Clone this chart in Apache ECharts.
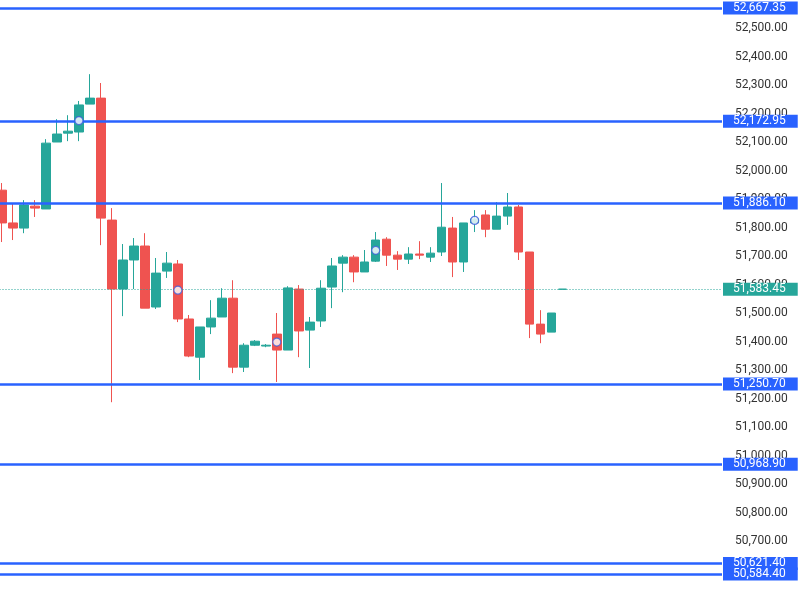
<!DOCTYPE html><html><head><meta charset="utf-8"><script src="https://cdn.jsdelivr.net/npm/echarts@6/dist/echarts.min.js"></script>
<style>html,body{margin:0;padding:0;background:#fff}#c{width:800px;height:591px}</style></head><body><div id="c"></div><script>
// [open, close, low, high]
const candles=[[51931,51816,51749,51956],[51816,51798,51756,51886],[51798,51879,51780,51896],[51875,51868,51837,51896],[51865,52096,51865,52110],[52100,52128,52100,52180],[52131,52138,52103,52194],[52135,52230,52103,52244],[52233,52254,52233,52338],[52254,51833,51738,52307],
[51826,51584,51187,51868],[51584,51686,51489,51742],[51686,51735,51584,51763],[51735,51517,51517,51780],[51521,51640,51514,51693],[51647,51675,51623,51714],[51672,51479,51468,51686],[51479,51349,51345,51493],[51345,51451,51265,51451],[51451,51482,51426,51545],
[51486,51552,51486,51587],[51552,51310,51289,51615],[51310,51387,51293,51394],[51387,51401,51384,51405],[51384,51387,51380,51391],[51426,51370,51258,51500],[51370,51588,51370,51594],[51584,51437,51345,51598],[51440,51468,51307,51486],[51472,51587,51451,51615],
[51591,51665,51517,51693],[51675,51696,51573,51703],[51696,51644,51608,51703],[51644,51679,51644,51721],[51682,51756,51679,51784],[51759,51703,51665,51766],[51703,51689,51651,51717],[51689,51707,51672,51731],[51707,51703,51689,51752],[51696,51710,51679,51731],
[51714,51801,51700,51956],[51798,51679,51626,51837],[51679,51816,51644,51816],[51816,51830,51784,51861],[51844,51794,51766,51861],[51794,51840,51794,51889],[51840,51872,51809,51921],[51872,51714,51686,51879],[51714,51461,51412,51714],[51461,51426,51394,51510],
[51433,51500,51433,51500],[51583.45,51583.45,51583.45,51583.45]];
const slots=66;
const categories=Array.from({length:slots},(_,i)=>String(i));
const markerIdx=[7,16,25,34,43];
const markerVal=[52175,51580,51398,51720,51825];
const levels=[52172.95,51886.10,51250.70,50968.90,50621.40,50584.40];
const topLevelLabel='52,667.35', topLevelPos=52570;
const lastPrice=51583.45;
const fmt=v=>v.toLocaleString('en-US',{minimumFractionDigits:2,maximumFractionDigits:2});
const blue='#2962ff', teal='#26a69a';
const lab=(c)=>({show:true,position:'end',distance:1,backgroundColor:c,color:'#fff',fontSize:12,padding:[1,12,0,10],fontFamily:'Roboto'});
const chart=echarts.init(document.getElementById('c'));
chart.setOption({animation:false,
grid:{left:-3.5,right:78,top:-0.5,bottom:-7,outerBoundsMode:'none',containLabel:false},
xAxis:{type:'category',data:categories,show:false,boundaryGap:true},
yAxis:{type:'value',position:'right',min:50500,max:52600,interval:100,splitLine:{show:false},axisLine:{show:false},axisTick:{show:false},
 axisLabel:{showMinLabel:false,showMaxLabel:false,formatter:fmt,color:'#333',fontSize:12,fontFamily:'Roboto',margin:13}},
series:[{type:'candlestick',data:candles,barWidth:9,
 itemStyle:{color:teal,color0:'#ef5350',borderColor:teal,borderColor0:'#ef5350',borderWidth:1},
 markLine:{symbol:'none',silent:true,lineStyle:{color:blue,width:2.5,type:'solid'},
  data:[{yAxis:topLevelPos,label:Object.assign(lab(blue),{formatter:topLevelLabel})}].concat(levels.map(v=>({yAxis:v,label:Object.assign(lab(blue),{formatter:fmt(v)})})))}},
 {type:'line',data:[],markLine:{symbol:'none',silent:true,lineStyle:{color:teal,type:[1,2],width:1},
  data:[{yAxis:lastPrice,label:Object.assign(lab(teal),{formatter:fmt(lastPrice)})}]}},
 {type:'scatter',data:markerIdx.map((i,k)=>[i,markerVal[k]]),symbol:'circle',symbolSize:8,z:5,itemStyle:{color:'#fff',borderColor:'#3a5bd9',borderWidth:1.2}}]});
</script></body></html>
